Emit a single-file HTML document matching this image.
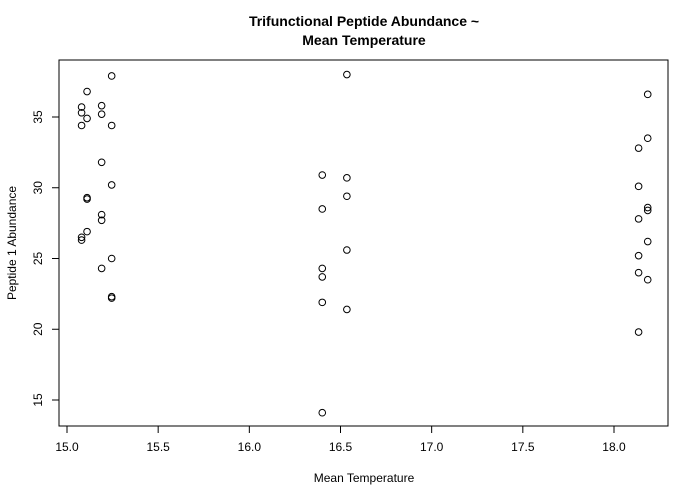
<!DOCTYPE html>
<html><head><meta charset="utf-8"><style>body{margin:0;background:#fff}svg{display:block;font-family:"Liberation Sans",sans-serif}</style></head>
<body>
<svg id="chart" width="700" height="500" viewBox="0 0 700 500">
<text x="364" y="26" text-anchor="middle" font-size="14" font-weight="bold">Trifunctional Peptide Abundance ~</text>
<text x="364" y="45" text-anchor="middle" font-size="14" font-weight="bold">Mean Temperature</text>
<rect x="59" y="60" width="609" height="366" fill="none" stroke="#000" stroke-width="1"/>
<g id="xaxis"></g>
<g id="yaxis"></g>
<g id="points"></g>
<text x="364" y="482" text-anchor="middle" font-size="12">Mean Temperature</text>
<text x="0" y="0" transform="translate(16,243) rotate(-90)" text-anchor="middle" font-size="12">Peptide 1 Abundance</text>
</svg>
<script>
const xTicks = [15.0, 15.5, 16.0, 16.5, 17.0, 17.5, 18.0];
const xTickLabels = ["15.0","15.5","16.0","16.5","17.0","17.5","18.0"];
const yTicks = [15, 20, 25, 30, 35];
const yTickLabels = ["15","20","25","30","35"];
const temps = [15.08,15.08,15.08,15.08,15.08, 15.11,15.11,15.11,15.11,15.11, 15.19,15.19,15.19,15.19,15.19,15.19, 15.245,15.245,15.245,15.245,15.245,15.245, 16.40,16.40,16.40,16.40,16.40,16.40, 16.535,16.535,16.535,16.535,16.535, 18.135,18.135,18.135,18.135,18.135,18.135, 18.185,18.185,18.185,18.185,18.185,18.185];
const abundance = [35.7,35.3,34.4,26.5,26.3, 36.8,34.9,29.3,29.2,26.9, 35.8,35.2,31.8,28.1,27.7,24.3, 37.9,34.4,30.2,25.0,22.3,22.2, 30.9,28.5,24.3,23.7,21.9,14.1, 38.0,30.7,29.4,25.6,21.4, 32.8,30.1,27.8,25.2,24.0,19.8, 36.6,33.5,28.6,28.4,26.2,23.5];
const NS="http://www.w3.org/2000/svg";
function xs(v){return 67+(v-15)*182.33;}
function ys(v){return 117-(v-35)*14.15;}
function mk(t,a){const e=document.createElementNS(NS,t);for(const k in a)e.setAttribute(k,a[k]);return e;}
const xa=document.getElementById('xaxis');
xa.appendChild(mk('line',{x1:xs(15),x2:xs(18),y1:426,y2:426,stroke:'#000'}));
xTicks.forEach((t,i)=>{
 const l=mk('line',{x1:xs(t),x2:xs(t),y1:426,y2:433,stroke:'#000'});
 
 
 xa.appendChild(l);
 const tx=mk('text',{x:xs(t),y:451,'text-anchor':'middle','font-size':'12'});
 
 
 tx.textContent=xTickLabels[i];xa.appendChild(tx);
});
const ya=document.getElementById('yaxis');
ya.appendChild(mk('line',{x1:59,x2:59,y1:ys(15),y2:ys(35),stroke:'#000'}));
yTicks.forEach((t,i)=>{
 const l=mk('line',{x1:52,x2:59,y1:ys(t),y2:ys(t),stroke:'#000'});
 
 
 ya.appendChild(l);
 const tx=mk('text',{x:0,y:0,transform:`translate(42,${ys(t)}) rotate(-90)`,'text-anchor':'middle','font-size':'12'});
 
 
 tx.textContent=yTickLabels[i];ya.appendChild(tx);
});
const pg=document.getElementById('points');
temps.forEach((t,i)=>{
 const c=mk('circle',{cx:xs(t),cy:ys(abundance[i]),r:3.3,fill:'none',stroke:'#000','stroke-width':1});
 
 
 pg.appendChild(c);
});
</script>
</body></html>
